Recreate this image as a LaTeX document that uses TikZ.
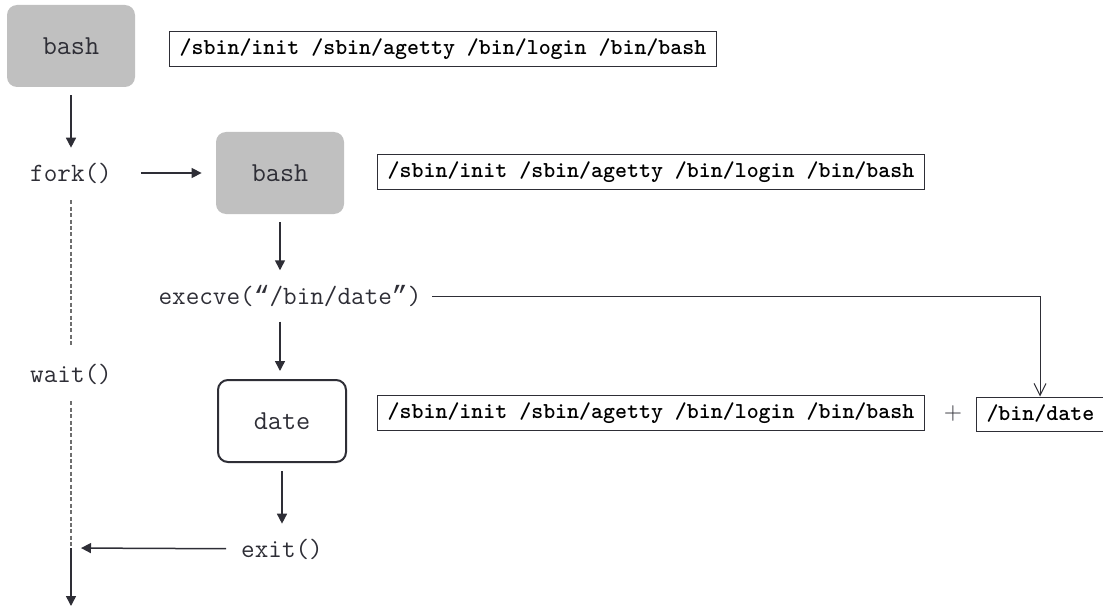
\documentclass[tikz,border=0pt]{standalone}
\usepackage{fontspec}
\newfontfamily\quotefont{Liberation Mono}
\usetikzlibrary{arrows.meta}
\definecolor{procGray}{HTML}{C0C0C0}
\definecolor{inkGray}{HTML}{2E2E36}
\definecolor{dashGray}{HTML}{6E6E6E}
\begin{document}
\begin{tikzpicture}[x=0.5pt,y=-0.5pt,
    proc/.style={rounded corners=5pt, minimum width=64pt, minimum height=41pt,
      font=\ttfamily\fontsize{13.7}{16}\selectfont, text=inkGray},
    pathbox/.style={draw=inkGray, line width=0.5pt, inner xsep=5pt, minimum height=17pt,
      font=\ttfamily\bfseries\fontsize{11.4}{13}\selectfont},
    call/.style={font=\ttfamily\fontsize{13.2}{16}\selectfont, text=inkGray},
    arr/.style={draw=inkGray, line width=0.75pt, -{Triangle[length=5pt,width=5pt]},
      shorten <=4pt, shorten >=4pt},
    wait line/.style={draw=dashGray, line width=0.6pt, dashed, dash pattern=on 2pt off 1.2pt,
      shorten <=5pt, shorten >=5pt}]
  \useasboundingbox (0,0) rectangle (1103,615);

  % parent shell and its two calls
  \node[proc, fill=procGray] (bash) at (71,46) {bash};
  \node[pathbox] (argsA) at (443,49) {/sbin/init /sbin/agetty /bin/login /bin/bash};
  \node[call] (fork) at (71,173) {fork()};
  \node[call] (wait) at (71,374) {wait()};
  \coordinate (join) at (71,548);
  \coordinate (down) at (71,606);

  % child
  \node[proc, fill=procGray] (child) at (280,173) {bash};
  \node[pathbox] (argsB) at (651,172) {/sbin/init /sbin/agetty /bin/login /bin/bash};
  \node[call] (execve) at (290,296) {execve({\quotefont“}/bin/date{\quotefont”})};
  \node[proc, draw=inkGray, line width=1pt] (date) at (282,421) {date};
  \node[pathbox] (argsC) at (651,413) {/sbin/init /sbin/agetty /bin/login /bin/bash};
  \node[call, font=\fontsize{12}{14}\selectfont] (plus) at (953,414) {+};
  \node[pathbox, anchor=west] (bindate) at (976,414) {/bin/date\hspace{8pt}};
  \node[call] (exit) at (282,549) {exit()};
  \coordinate (turn) at (1040,296);

  \draw[arr] (bash) -- (fork);
  \draw[arr, shorten <=11pt, shorten >=7pt] (fork) -- (child);
  \draw[wait line] (fork) -- (wait);
  \draw[wait line, shorten >=0pt] (wait) -- (join);
  \draw[arr, shorten <=0pt, shorten >=0pt] (join) -- (down);
  \draw[arr] (child.south) -- (child.south |- execve.north);
  \draw[arr] (execve.south -| child) -- (date.north -| child);
  \draw[arr] (date) -- (exit);
  \draw[arr, shorten >=5pt] (exit) -- (join);
  \draw[draw=inkGray, line width=0.5pt, -{Straight Barb[length=6pt,width=6pt]}, shorten <=2pt]
    (execve.east) -- (turn) -- (turn |- bindate.north);
\end{tikzpicture}
\end{document}
